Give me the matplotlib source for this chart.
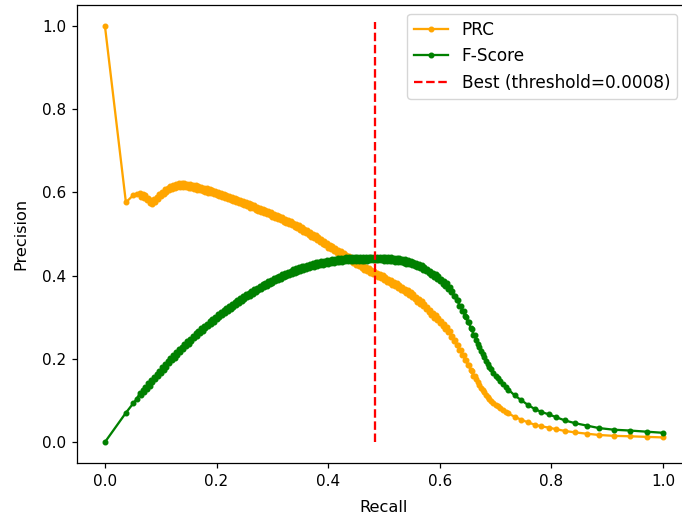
import matplotlib
matplotlib.use("Agg")
import matplotlib.pyplot as plt

# Recall values (x) of every threshold point
recall = [
    0.000, 0.0376, 0.0507, 0.057,
    0.0625, 0.0650, 0.0675, 0.0700, 0.0725, 0.0750, 0.0775, 0.0800,
    0.0825, 0.0850, 0.0875, 0.0900, 0.0925, 0.0950, 0.0975, 0.1000,
    0.1025, 0.1050, 0.1075, 0.1100, 0.1125, 0.1150, 0.1175, 0.1200,
    0.1225, 0.1250, 0.1275, 0.1300, 0.1325, 0.1350, 0.1375, 0.1400,
    0.1425, 0.1450, 0.1475, 0.1500, 0.1525, 0.1550, 0.1575, 0.1600,
    0.1625, 0.1650, 0.1675, 0.1700, 0.1725, 0.1750, 0.1775, 0.1800,
    0.1825, 0.1850, 0.1875, 0.1900, 0.1925, 0.1950, 0.1975, 0.2000,
    0.2025, 0.2050, 0.2075, 0.2100, 0.2125, 0.2150, 0.2175, 0.2200,
    0.2225, 0.2250, 0.2275, 0.2300, 0.2325, 0.2350, 0.2375, 0.2400,
    0.2425, 0.2450, 0.2475, 0.2500, 0.2525, 0.2550, 0.2575, 0.2600,
    0.2625, 0.2650, 0.2675, 0.2700, 0.2725, 0.2750, 0.2775, 0.2800,
    0.2825, 0.2850, 0.2875, 0.2900, 0.2925, 0.2950, 0.2975, 0.3000,
    0.3025, 0.3050, 0.3075, 0.3100, 0.3125, 0.3150, 0.3175, 0.3200,
    0.3225, 0.3250, 0.3275, 0.3300, 0.3325, 0.3350, 0.3375, 0.3400,
    0.3425, 0.3450, 0.3475, 0.3500, 0.3525, 0.3550, 0.3575, 0.3600,
    0.3625, 0.3650, 0.3675, 0.3700, 0.3725, 0.3750, 0.3775, 0.3800,
    0.3825, 0.3850, 0.3875, 0.3900, 0.3925, 0.3950, 0.3975, 0.4000,
    0.4025, 0.4050, 0.4075, 0.4100, 0.4125, 0.4150, 0.4175, 0.4200,
    0.4225, 0.4250, 0.4275, 0.4300, 0.4325, 0.4350, 0.4375, 0.4400,
    0.4425, 0.4450, 0.4475, 0.4500, 0.4525, 0.4550, 0.4575, 0.4600,
    0.4625, 0.4650, 0.4675, 0.4700, 0.4725, 0.4750, 0.4775, 0.4800,
    0.4825, 0.4850, 0.4875, 0.4900, 0.4925, 0.4950, 0.4975, 0.5000,
    0.5025, 0.5050, 0.5075, 0.5100, 0.5125, 0.5150, 0.5175, 0.5200,
    0.5225, 0.5250, 0.5275, 0.5300, 0.5325, 0.5350, 0.5375, 0.5400,
    0.5425, 0.5450, 0.5475, 0.5500, 0.5525, 0.5550, 0.5575, 0.5600,
    0.5625, 0.5650, 0.5675, 0.5700, 0.5725, 0.5750, 0.5775, 0.5800,
    0.5825, 0.5850, 0.5875, 0.5900, 0.5925, 0.5950, 0.5975, 0.6000,
    0.6025, 0.6050, 0.6075, 0.6100, 0.6125, 0.6150, 0.6175, 0.6200,
    0.6225, 0.6250, 0.6275, 0.6300, 0.6325, 0.6350, 0.6375, 0.6400,
    0.6425, 0.6450, 0.6475, 0.6500, 0.6525, 0.6550, 0.6575, 0.6600,
    0.6625, 0.665, 0.668, 0.671, 0.674, 0.677, 0.680, 0.683,
    0.686, 0.689, 0.692, 0.696, 0.700, 0.704, 0.708, 0.713,
    0.718, 0.723, 0.734, 0.746, 0.758, 0.770, 0.782, 0.795,
    0.809, 0.824, 0.842, 0.863, 0.885, 0.912, 0.940, 0.971, 1.000,
]

# Precision at each point (orange PRC curve)
precision = [
    1.000, 0.576, 0.593, 0.595,
    0.5990, 0.5895, 0.5970, 0.5865, 0.5925, 0.5805, 0.5860, 0.5735,
    0.5820, 0.5725, 0.5840, 0.5775, 0.5900, 0.5845, 0.5965, 0.5905,
    0.6020, 0.5955, 0.6070, 0.6005, 0.6115, 0.6045, 0.6150, 0.6075,
    0.6180, 0.6105, 0.6205, 0.6125, 0.6220, 0.6135, 0.6225, 0.6135,
    0.6220, 0.6125, 0.6210, 0.6115, 0.6200, 0.6105, 0.6185, 0.6085,
    0.6165, 0.6065, 0.6150, 0.6055, 0.6135, 0.6035, 0.6115, 0.6015,
    0.6095, 0.5995, 0.6075, 0.5975, 0.6055, 0.5955, 0.6035, 0.5935,
    0.6015, 0.5915, 0.5990, 0.5885, 0.5965, 0.5865, 0.5940, 0.5835,
    0.5915, 0.5815, 0.5890, 0.5785, 0.5865, 0.5765, 0.5840, 0.5735,
    0.5815, 0.5715, 0.5790, 0.5685, 0.5765, 0.5665, 0.5740, 0.5635,
    0.5715, 0.5615, 0.5690, 0.5585, 0.5660, 0.5555, 0.5630, 0.5525,
    0.5605, 0.5505, 0.5580, 0.5475, 0.5550, 0.5445, 0.5520, 0.5415,
    0.5490, 0.5385, 0.5460, 0.5355, 0.5430, 0.5325, 0.5400, 0.5295,
    0.5370, 0.5265, 0.5340, 0.5235, 0.5310, 0.5205, 0.5275, 0.5165,
    0.5240, 0.5135, 0.5205, 0.5095, 0.5165, 0.5055, 0.5125, 0.5015,
    0.5085, 0.4975, 0.5045, 0.4935, 0.5005, 0.4895, 0.4965, 0.4855,
    0.4925, 0.4815, 0.4880, 0.4765, 0.4835, 0.4725, 0.4790, 0.4675,
    0.4745, 0.4635, 0.4705, 0.4595, 0.4665, 0.4555, 0.4625, 0.4515,
    0.4585, 0.4475, 0.4545, 0.4435, 0.4505, 0.4395, 0.4460, 0.4345,
    0.4415, 0.4305, 0.4375, 0.4265, 0.4335, 0.4225, 0.4295, 0.4185,
    0.4255, 0.4145, 0.4215, 0.4105, 0.4180, 0.4075, 0.4145, 0.4035,
    0.4110, 0.4005, 0.4075, 0.3965, 0.4040, 0.3935, 0.4005, 0.3895,
    0.3965, 0.3855, 0.3930, 0.3825, 0.3895, 0.3785, 0.3855, 0.3745,
    0.3815, 0.3705, 0.3775, 0.3665, 0.3735, 0.3625, 0.3690, 0.3575,
    0.3645, 0.3535, 0.3600, 0.3485, 0.3550, 0.3435, 0.3495, 0.3375,
    0.3440, 0.3325, 0.3385, 0.3265, 0.3320, 0.3195, 0.3250, 0.3125,
    0.3180, 0.3055, 0.3110, 0.2985, 0.3045, 0.2925, 0.2980, 0.2855,
    0.2910, 0.2785, 0.2840, 0.2715, 0.2765, 0.2635, 0.2675, 0.2535,
    0.2555, 0.2440, 0.2445, 0.2330, 0.2330, 0.2210, 0.2210, 0.2090,
    0.2090, 0.1970, 0.1970, 0.1850, 0.1850, 0.1725, 0.1720, 0.1600,
    0.1600, 0.151, 0.144, 0.1375, 0.131, 0.1255, 0.120, 0.1145,
    0.109, 0.1045, 0.100, 0.095, 0.090, 0.086, 0.082, 0.077,
    0.073, 0.069, 0.061, 0.054, 0.0475, 0.042, 0.038, 0.035,
    0.031, 0.027, 0.0235, 0.0205, 0.0173, 0.0152, 0.0142, 0.0127, 0.0114,
]

# F-score at each point (green curve)
fscore = [
    0.000, 0.0706, 0.0934, 0.1040,
    0.1176, 0.1127, 0.1257, 0.1207, 0.1336, 0.1285, 0.1413, 0.1360,
    0.1489, 0.1437, 0.1566, 0.1514, 0.1643, 0.1591, 0.1719, 0.1667,
    0.1795, 0.1742, 0.1870, 0.1817, 0.1944, 0.1890, 0.2016, 0.1962,
    0.2088, 0.2033, 0.2158, 0.2103, 0.2227, 0.2171, 0.2295, 0.2238,
    0.2361, 0.2303, 0.2426, 0.2368, 0.2490, 0.2431, 0.2552, 0.2493,
    0.2613, 0.2553, 0.2674, 0.2614, 0.2734, 0.2673, 0.2792, 0.2731,
    0.2849, 0.2787, 0.2905, 0.2843, 0.2961, 0.2898, 0.3015, 0.2952,
    0.3069, 0.3006, 0.3122, 0.3057, 0.3173, 0.3108, 0.3223, 0.3157,
    0.3272, 0.3207, 0.3321, 0.3254, 0.3368, 0.3301, 0.3414, 0.3347,
    0.3460, 0.3393, 0.3505, 0.3436, 0.3549, 0.3481, 0.3592, 0.3522,
    0.3634, 0.3565, 0.3675, 0.3605, 0.3715, 0.3644, 0.3753, 0.3682,
    0.3792, 0.3721, 0.3829, 0.3757, 0.3865, 0.3793, 0.3900, 0.3827,
    0.3934, 0.3861, 0.3968, 0.3894, 0.4000, 0.3926, 0.4032, 0.3957,
    0.4062, 0.3987, 0.4092, 0.4017, 0.4121, 0.4045, 0.4148, 0.4070,
    0.4174, 0.4097, 0.4198, 0.4119, 0.4220, 0.4141, 0.4242, 0.4162,
    0.4262, 0.4182, 0.4282, 0.4201, 0.4300, 0.4219, 0.4317, 0.4235,
    0.4333, 0.4251, 0.4347, 0.4262, 0.4359, 0.4276, 0.4371, 0.4285,
    0.4381, 0.4297, 0.4393, 0.4308, 0.4403, 0.4318, 0.4413, 0.4328,
    0.4422, 0.4336, 0.4430, 0.4343, 0.4437, 0.4350, 0.4440, 0.4350,
    0.4442, 0.4354, 0.4446, 0.4358, 0.4450, 0.4361, 0.4452, 0.4362,
    0.4453, 0.4363, 0.4453, 0.4363, 0.4455, 0.4368, 0.4457, 0.4366,
    0.4458, 0.4369, 0.4457, 0.4366, 0.4457, 0.4367, 0.4455, 0.4362,
    0.4449, 0.4356, 0.4446, 0.4356, 0.4442, 0.4348, 0.4434, 0.4339,
    0.4425, 0.4330, 0.4415, 0.4320, 0.4405, 0.4309, 0.4389, 0.4289,
    0.4373, 0.4276, 0.4356, 0.4255, 0.4334, 0.4233, 0.4308, 0.4202,
    0.4280, 0.4177, 0.4250, 0.4143, 0.4212, 0.4100, 0.4167, 0.4054,
    0.4121, 0.4008, 0.4074, 0.3959, 0.4028, 0.3917, 0.3981, 0.3865,
    0.3928, 0.3811, 0.3873, 0.3755, 0.3812, 0.3688, 0.3735, 0.3599,
    0.3623, 0.3511, 0.3518, 0.3404, 0.3403, 0.3282, 0.3279, 0.3155,
    0.3150, 0.3023, 0.3016, 0.2886, 0.2876, 0.2738, 0.2719, 0.2584,
    0.2568, 0.2461, 0.2369, 0.2282, 0.2194, 0.2118, 0.2040, 0.1961,
    0.1881, 0.1815, 0.1747, 0.1672, 0.1595, 0.1533, 0.1470, 0.1390,
    0.1325, 0.1260, 0.1126, 0.1007, 0.0894, 0.0797, 0.0725, 0.0670,
    0.0597, 0.0523, 0.0457, 0.0400, 0.0339, 0.0299, 0.0280, 0.0251, 0.0225,
]

best_recall = 0.484
best_threshold = 0.0008
line_top = 1.01

W, H = 682, 517
fig = plt.figure(figsize=(W / 100, H / 100), dpi=100)
ax = fig.add_axes([77 / W, (H - 463) / H, 614 / W, 458 / H])

ax.plot(recall, precision, marker=".", markersize=6.6, linewidth=1.65,
        color="orange", label="PRC")
ax.plot(recall, fscore, marker=".", markersize=6.6, linewidth=1.65,
        color="green", label="F-Score")
ax.vlines(best_recall, 0, line_top, colors="red", linestyles="--",
          linewidth=1.65, label=f"Best (threshold={best_threshold})")

ax.set_xlim(-0.05, 1.05)
ax.set_ylim(-0.05, 1.05)
ax.set_xticks([0.0, 0.2, 0.4, 0.6, 0.8, 1.0])
ax.set_yticks([0.0, 0.2, 0.4, 0.6, 0.8, 1.0])
ax.tick_params(labelsize=11, length=3.85, pad=3.85, width=0.9)
for s in ax.spines.values():
    s.set_linewidth(0.9)
ax.set_xlabel("Recall", fontsize=11.6, labelpad=8.5)
ax.set_ylabel("Precision", fontsize=11.6, labelpad=9.5)

ax.legend(loc="upper right", bbox_to_anchor=(677 / W, 1 - 14 / H),
          bbox_transform=fig.transFigure, borderaxespad=0, fontsize=12.2)

fig.savefig("out.png", dpi=100)
